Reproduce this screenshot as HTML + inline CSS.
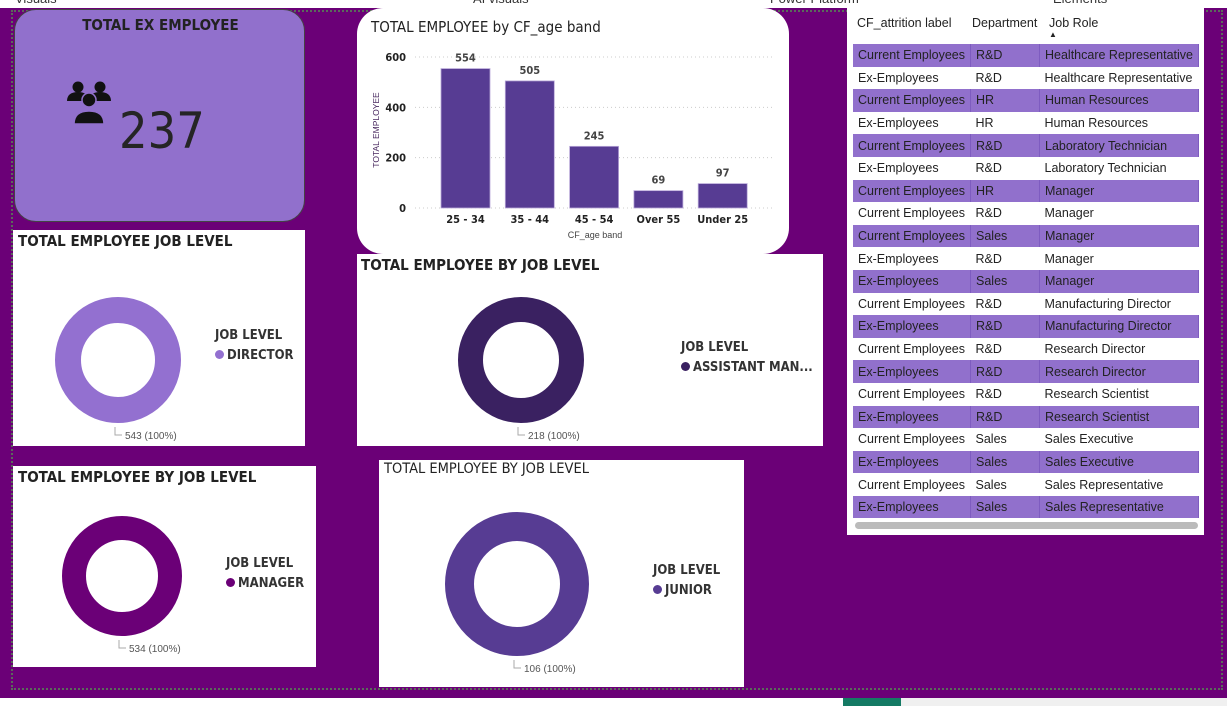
<!DOCTYPE html>
<html><head><meta charset="utf-8"><style>
*{box-sizing:border-box;margin:0;padding:0}
body{width:1227px;height:706px;overflow:hidden;background:#6b0077;font-family:"Liberation Sans",sans-serif;position:relative}
.abs{position:absolute}
.card{position:absolute;background:#fff}
.ttl{position:absolute;font-weight:bold;font-size:15px;color:#222;font-family:"DejaVu Sans Condensed","Liberation Sans",sans-serif}
.leg{position:absolute;font-size:13px;font-weight:bold;color:#333;font-family:"DejaVu Sans Condensed","Liberation Sans",sans-serif;line-height:20px}
.dot{display:inline-block;width:9px;height:9px;border-radius:50%;margin-right:3px}
.lbl{position:absolute;font-size:10px;color:#555}
table{border-collapse:collapse;font-size:12.5px;color:#222}
td{height:22.6px;padding:0 5px;white-space:nowrap}
tr.p td{background:#9170cc;border-right:1px solid #7e5cc0}
</style></head><body>
<div class="abs" style="left:0;top:0;width:1227px;height:8px;background:#fff;overflow:hidden;font-size:13px;color:#333">
<span class="abs" style="left:15px;top:-9px">Visuals</span><span class="abs" style="left:473px;top:-9px">AI visuals</span><span class="abs" style="left:770px;top:-9px">Power Platform</span><span class="abs" style="left:1053px;top:-9px">Elements</span></div>
<div class="abs" style="left:11px;top:10px;width:1212px;height:680px;border:2px dotted #5a6a5a"></div>
<div class="abs" style="left:0;top:698px;width:1227px;height:8px;background:#fff"><div class="abs" style="left:843px;top:0;width:58px;height:8px;background:#147a64"></div><div class="abs" style="left:901px;top:0;width:326px;height:8px;background:#f0f0f0"></div></div>

<div class="abs" style="left:14px;top:9px;width:291px;height:213px;background:#9170cc;border-radius:22px;border:1px solid #444">
<div class="ttl" style="left:0;width:291px;text-align:center;top:6px">TOTAL EX EMPLOYEE</div>
<svg class="abs" style="left:51px;top:69px" width="48" height="48" viewBox="0 0 48 48"><g fill="#111"><circle cx="12" cy="8" r="5.5"/><circle cx="34" cy="8" r="5.5"/><path d="M1 22c0-6 4-9 11-9s11 3 11 9z"/><path d="M23 22c0-6 4-9 11-9s11 3 11 9z"/><circle cx="23" cy="21" r="7" stroke="#9170cc" stroke-width="1.5"/><path d="M8 45c0-9 6-13 15-13s15 4 15 13z" stroke="#9170cc" stroke-width="1.5"/></g></svg>
<div class="abs" style="left:104px;top:92px;font-size:50px;color:#252525;font-family:'DejaVu Sans Condensed','Liberation Sans',sans-serif">237</div>
</div>

<div class="card" style="left:357px;top:8px;width:432px;height:246px;border-radius:26px">
<div class="abs" style="left:14px;top:10px;font-size:15px;color:#222;font-family:'DejaVu Sans Condensed','Liberation Sans',sans-serif">TOTAL EMPLOYEE by CF_age band</div>
</div>
<svg class="abs" id="bar" style="left:357px;top:8px" width="432" height="246"></svg>

<div class="card" style="left:13px;top:230px;width:292px;height:216px"><div class="ttl" style="left:5px;top:2px">TOTAL EMPLOYEE JOB LEVEL</div></div>
<div class="card" style="left:357px;top:254px;width:466px;height:192px"><div class="ttl" style="left:4px;top:2px">TOTAL EMPLOYEE BY JOB LEVEL</div></div>
<div class="card" style="left:13px;top:466px;width:303px;height:201px"><div class="ttl" style="left:5px;top:2px">TOTAL EMPLOYEE BY JOB LEVEL</div></div>
<div class="card" style="left:379px;top:460px;width:365px;height:227px"><div class="abs" style="left:5px;top:1px;font-size:14.5px;color:#222;font-family:'DejaVu Sans Condensed','Liberation Sans',sans-serif">TOTAL EMPLOYEE BY JOB LEVEL</div></div>
<svg class="abs" id="donuts" style="left:0;top:0" width="1227" height="706"></svg>

<div class="leg" style="left:215px;top:326px">JOB LEVEL<br><span class="dot" style="background:#9370d0"></span>DIRECTOR</div>
<div class="leg" style="left:681px;top:338px">JOB LEVEL<br><span class="dot" style="background:#3a2161"></span>ASSISTANT MAN...</div>
<div class="leg" style="left:226px;top:554px">JOB LEVEL<br><span class="dot" style="background:#6b0077"></span>MANAGER</div>
<div class="leg" style="left:653px;top:561px">JOB LEVEL<br><span class="dot" style="background:#573c93"></span>JUNIOR</div>

<div class="card" style="left:847px;top:8px;width:357px;height:527px">
<table style="position:absolute;left:6px;top:36px;width:346px">
<tbody id="tb"></tbody></table>
<div class="abs" style="left:5px;top:5px;font-size:12.5px;color:#222;width:346px;height:30px"><span class="abs" style="left:5px;top:3px">CF_attrition label</span><span class="abs" style="left:120px;top:3px">Department</span><span class="abs" style="left:197px;top:3px">Job Role</span><span class="abs" style="left:197px;top:17px;font-size:8px">▲</span></div>
<div class="abs" style="left:8px;top:514px;width:343px;height:7px;background:#bbb;border-radius:4px"></div>
</div>

<script>
const categories=["25 - 34","35 - 44","45 - 54","Over 55","Under 25"];
const values=[554,505,245,69,97];
const ticks=[0,200,400,600];
const NS="http://www.w3.org/2000/svg";
function mk(p,t,a,txt){const e=document.createElementNS(NS,t);for(const k in a)e.setAttribute(k,a[k]);if(txt!==undefined)e.textContent=txt;p.appendChild(e);return e;}
const svg=document.getElementById('bar');
const y0=200,yTop=49,yMax=600;
const y=v=>y0-(v/yMax)*(y0-yTop);
const x=i=>84+i*64.3;
ticks.forEach(t=>{
 const l=mk(svg,'line',{x1:58,x2:418,y1:y(t),y2:y(t),stroke:'#ccc','stroke-dasharray':'1 3'});
 
 
 const tx=mk(svg,'text',{x:49,y:y(t)+4,'text-anchor':'end','font-size':11,'font-weight':'bold',fill:'#222','font-family':'DejaVu Sans Condensed, Liberation Sans, sans-serif'},t);
 
 
});
categories.forEach((c,i)=>{
 const r=mk(svg,'rect',{x:x(i),y:y(values[i]),width:49,height:y0-y(values[i]),fill:'#573c93',stroke:'#b9a9d9','stroke-width':0.8});
 
 
 const v=mk(svg,'text',{x:x(i)+24.5,y:y(values[i])-7,'text-anchor':'middle','font-size':11,'font-weight':'bold',fill:'#444','font-family':'DejaVu Sans Condensed, Liberation Sans, sans-serif'},values[i]);
 
 
 const t=mk(svg,'text',{x:x(i)+24.5,y:215,'text-anchor':'middle','font-size':11,'font-weight':'bold',fill:'#222','font-family':'DejaVu Sans Condensed, Liberation Sans, sans-serif'},c);
 
 
});
const xt=mk(svg,'text',{x:238,y:230,'text-anchor':'middle','font-size':9,fill:'#444'},'CF_age band');


const yt=mk(svg,'text',{x:0,y:0,transform:'translate(22,122) rotate(-90)','text-anchor':'middle','font-size':8.5,fill:'#4a2a60'},'TOTAL EMPLOYEE');



const donutNames=["director","assistant-manager","manager","junior"];
const donutValues=[543,218,534,106];
const donutColors=["#9370d0","#3a2161","#6b0077","#573c93"];
const geo=[[118,360,63,37],[521,360,63,38],[122,576,60,36],[517,584,72,43]];
const ds=document.getElementById('donuts');
donutValues.forEach((v,i)=>{
 const [cx,cy,R,r]=geo[i];
 const c=mk(ds,'circle',{cx:cx,cy:cy,r:(R+r)/2,fill:'none',stroke:donutColors[i],'stroke-width':R-r});
 
 
 mk(ds,'path',{d:`M${cx-3} ${cy+R+4} v8 h7`,stroke:'#aaa',fill:'none'});
 const t=mk(ds,'text',{x:cx+7,y:cy+R+16,'font-size':10,fill:'#555'},v+' (100%)');
 
 
});

const rows=[["Current Employees","R&D","Healthcare Representative"],["Ex-Employees","R&D","Healthcare Representative"],["Current Employees","HR","Human Resources"],["Ex-Employees","HR","Human Resources"],["Current Employees","R&D","Laboratory Technician"],["Ex-Employees","R&D","Laboratory Technician"],["Current Employees","HR","Manager"],["Current Employees","R&D","Manager"],["Current Employees","Sales","Manager"],["Ex-Employees","R&D","Manager"],["Ex-Employees","Sales","Manager"],["Current Employees","R&D","Manufacturing Director"],["Ex-Employees","R&D","Manufacturing Director"],["Current Employees","R&D","Research Director"],["Ex-Employees","R&D","Research Director"],["Current Employees","R&D","Research Scientist"],["Ex-Employees","R&D","Research Scientist"],["Current Employees","Sales","Sales Executive"],["Ex-Employees","Sales","Sales Executive"],["Current Employees","Sales","Sales Representative"],["Ex-Employees","Sales","Sales Representative"]];
const purple=[0,2,4,6,8,10,12,14,16,18,20];
const tb=document.getElementById('tb');
rows.forEach((r,i)=>{
 const tr=document.createElement('tr');
 
 
 if(purple.includes(i))tr.className='p';
 r.forEach((c,j)=>{const td=document.createElement('td');td.textContent=c;td.style.width=[115,77,154][j]+'px';tr.appendChild(td);});
 tb.appendChild(tr);
});
</script>
</body></html>
